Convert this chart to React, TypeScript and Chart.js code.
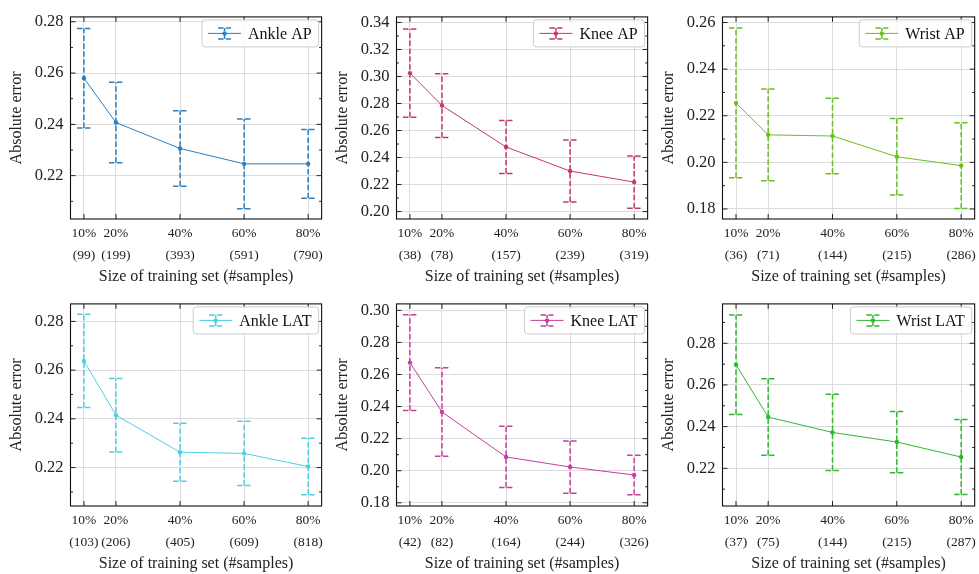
import React, { useEffect, useRef } from 'react';
import { Chart, registerables } from 'chart.js';

Chart.register(...registerables);

// ---------- data ----------
const trainFractions = [10, 20, 40, 60, 80];
const pctLabels = ['10%', '20%', '40%', '60%', '80%'];

const ankleApCounts = ['(99)', '(199)', '(393)', '(591)', '(790)'];
const ankleApMean = [0.258, 0.2407, 0.2306, 0.2246, 0.2246];
const ankleApStd = [0.0194, 0.0157, 0.0147, 0.0175, 0.0134];
const ankleApYTicks = [0.22, 0.24, 0.26, 0.28];
const ankleApYRange = [0.2031, 0.2819];

const kneeApCounts = ['(38)', '(78)', '(157)', '(239)', '(319)'];
const kneeApMean = [0.3025, 0.2785, 0.2478, 0.23, 0.2218];
const kneeApStd = [0.0326, 0.0236, 0.0196, 0.023, 0.0193];
const kneeApYTicks = [0.2, 0.22, 0.24, 0.26, 0.28, 0.3, 0.32, 0.34];
const kneeApYRange = [0.1945, 0.3441];

const wristApCounts = ['(36)', '(71)', '(144)', '(215)', '(286)'];
const wristApMean = [0.2255, 0.2118, 0.2113, 0.2024, 0.1986];
const wristApStd = [0.0321, 0.0197, 0.0162, 0.0164, 0.0184];
const wristApYTicks = [0.18, 0.2, 0.22, 0.24, 0.26];
const wristApYRange = [0.1757, 0.2624];

const ankleLatCounts = ['(103)', '(206)', '(405)', '(609)', '(818)'];
const ankleLatMean = [0.2638, 0.2415, 0.2263, 0.2258, 0.2204];
const ankleLatStd = [0.0191, 0.0151, 0.0119, 0.0132, 0.0116];
const ankleLatYTicks = [0.22, 0.24, 0.26, 0.28];
const ankleLatYRange = [0.2042, 0.2872];

const kneeLatCounts = ['(42)', '(82)', '(164)', '(244)', '(326)'];
const kneeLatMean = [0.2674, 0.2366, 0.2086, 0.2023, 0.1973];
const kneeLatStd = [0.0299, 0.0276, 0.0191, 0.0163, 0.0123];
const kneeLatYTicks = [0.18, 0.2, 0.22, 0.24, 0.26, 0.28, 0.3];
const kneeLatYRange = [0.178, 0.304];

const wristLatCounts = ['(37)', '(75)', '(144)', '(215)', '(287)'];
const wristLatMean = [0.2697, 0.2446, 0.2372, 0.2326, 0.2254];
const wristLatStd = [0.0239, 0.0184, 0.0183, 0.0147, 0.018];
const wristLatYTicks = [0.22, 0.24, 0.26, 0.28];
const wristLatYRange = [0.2019, 0.2989];

const xRange = [5.8, 84.2];
const xTitle = 'Size of training set (#samples)';
const yTitle = 'Absolute error';

// ---------- panels ----------
const FONT = '"Liberation Serif", "DejaVu Serif", serif';

type Panel = {
  name: string; counts: string[]; mean: number[]; std: number[];
  yTicks: number[]; yRange: number[]; color: string; col: number; row: number;
};

const panels: Panel[] = [
  { name: 'Ankle AP', counts: ankleApCounts, mean: ankleApMean, std: ankleApStd, yTicks: ankleApYTicks, yRange: ankleApYRange, color: '#2a7fc1', col: 0, row: 0 },
  { name: 'Knee AP', counts: kneeApCounts, mean: kneeApMean, std: kneeApStd, yTicks: kneeApYTicks, yRange: kneeApYRange, color: '#c8395f', col: 1, row: 0 },
  { name: 'Wrist AP', counts: wristApCounts, mean: wristApMean, std: wristApStd, yTicks: wristApYTicks, yRange: wristApYRange, color: '#6abf22', col: 2, row: 0 },
  { name: 'Ankle LAT', counts: ankleLatCounts, mean: ankleLatMean, std: ankleLatStd, yTicks: ankleLatYTicks, yRange: ankleLatYRange, color: '#4ccfe0', col: 0, row: 1 },
  { name: 'Knee LAT', counts: kneeLatCounts, mean: kneeLatMean, std: kneeLatStd, yTicks: kneeLatYTicks, yRange: kneeLatYRange, color: '#c53f9c', col: 1, row: 1 },
  { name: 'Wrist LAT', counts: wristLatCounts, mean: wristLatMean, std: wristLatStd, yTicks: wristLatYTicks, yRange: wristLatYRange, color: '#2fb92f', col: 2, row: 1 },
];

const colLeft = [0, 326, 652];
const colWidth = [326, 326, 327];
const rowTop = [0, 287];
const rowHeight = [287, 287];
const rowPadTop = [9, 8];

function decorPlugin(p: Panel) {
  return {
    id: 'decor',
    beforeDatasetsDraw(chart: any) {
      const { ctx, scales } = chart;
      const x = scales.x, y = scales.y;
      ctx.save();
      ctx.strokeStyle = p.color;
      ctx.lineWidth = 1.5;
      ctx.setLineDash([5.5, 2.4]);
      trainFractions.forEach((f, i) => {
        const px = x.getPixelForValue(f);
        const top = y.getPixelForValue(p.mean[i] + p.std[i]);
        const bot = y.getPixelForValue(p.mean[i] - p.std[i]);
        ctx.beginPath(); ctx.moveTo(px, bot); ctx.lineTo(px, top); ctx.stroke();
        ctx.beginPath(); ctx.moveTo(px - 7, top); ctx.lineTo(px + 7, top); ctx.stroke();
        ctx.beginPath(); ctx.moveTo(px - 7, bot); ctx.lineTo(px + 7, bot); ctx.stroke();
      });
      ctx.restore();
    },
    afterDraw(chart: any) {
      const { ctx, chartArea: a, scales } = chart;
      const x = scales.x, y = scales.y;
      ctx.save();
      // ticks
      ctx.strokeStyle = '#222';
      ctx.lineWidth = 1;
      ctx.beginPath();
      const [ymin, ymax] = p.yRange;
      for (let k = Math.ceil(ymin * 100 - 1e-6); k <= Math.floor(ymax * 100 + 1e-6); k++) {
        const v = k / 100;
        const major = p.yTicks.some((t) => Math.abs(t - v) < 1e-6);
        const len = major ? 5 : 2.5;
        const py = y.getPixelForValue(v);
        ctx.moveTo(a.left, py); ctx.lineTo(a.left + len, py);
        ctx.moveTo(a.right, py); ctx.lineTo(a.right - len, py);
      }
      trainFractions.forEach((f) => {
        const px = x.getPixelForValue(f);
        ctx.moveTo(px, a.bottom); ctx.lineTo(px, a.bottom - 5);
        ctx.moveTo(px, a.top); ctx.lineTo(px, a.top + 5);
      });
      ctx.stroke();
      // frame
      ctx.strokeStyle = '#111';
      ctx.lineWidth = 1.1;
      ctx.strokeRect(a.left, a.top, a.right - a.left, a.bottom - a.top);

      // legend
      ctx.font = `16px ${FONT}`;
      const tw = ctx.measureText(p.name).width;
      const w = 46 + tw + 7;
      const h = 27;
      const bx = a.right - 3 - w;
      const by = a.top + 3;
      ctx.beginPath();
      (ctx as any).roundRect(bx, by, w, h, 3);
      ctx.fillStyle = 'rgba(255,255,255,0.85)';
      ctx.fill();
      ctx.strokeStyle = '#cccccc';
      ctx.lineWidth = 1;
      ctx.stroke();
      const cy = by + h / 2;
      const hx = bx + 22.5;
      ctx.strokeStyle = p.color;
      ctx.lineWidth = 1;
      ctx.beginPath(); ctx.moveTo(bx + 6, cy); ctx.lineTo(bx + 39, cy); ctx.stroke();
      ctx.lineWidth = 1.5;
      ctx.setLineDash([5.5, 2.4]);
      ctx.beginPath(); ctx.moveTo(hx, cy + 5.5); ctx.lineTo(hx, cy - 5.5); ctx.stroke();
      ctx.beginPath(); ctx.moveTo(hx - 6.5, cy - 5.5); ctx.lineTo(hx + 6.5, cy - 5.5); ctx.stroke();
      ctx.beginPath(); ctx.moveTo(hx - 6.5, cy + 5.5); ctx.lineTo(hx + 6.5, cy + 5.5); ctx.stroke();
      ctx.setLineDash([]);
      ctx.fillStyle = p.color;
      ctx.beginPath(); ctx.arc(hx, cy, 2.2, 0, Math.PI * 2); ctx.fill();
      ctx.fillStyle = '#111';
      ctx.textBaseline = 'middle';
      ctx.textAlign = 'left';
      ctx.fillText(p.name, bx + 46, cy + 1);
      ctx.restore();
    },
  };
}

function PanelChart({ p }: { p: Panel }) {
  const ref = useRef<HTMLCanvasElement>(null);
  useEffect(() => {
    if (!ref.current) return;
    const chart = new Chart(ref.current, {
      type: 'line',
      data: {
        datasets: [
          {
            label: p.name,
            data: trainFractions.map((f, i) => ({ x: f, y: p.mean[i] })),
            borderColor: p.color,
            backgroundColor: p.color,
            borderWidth: 1,
            pointRadius: 2.2,
            pointBorderWidth: 0,
            pointBackgroundColor: p.color,
            tension: 0,
          },
        ],
      },
      options: {
        animation: false,
        responsive: false,
        devicePixelRatio: 1,
        layout: { padding: { top: rowPadTop[p.row], right: 4, left: 0, bottom: 0 } },
        plugins: { legend: { display: false }, tooltip: { enabled: false } },
        scales: {
          x: {
            type: 'linear',
            min: xRange[0],
            max: xRange[1],
            afterBuildTicks: (s: any) => { s.ticks = trainFractions.map((v) => ({ value: v })); },
            afterFit: (s: any) => { s.height = 68; },
            ticks: {
              autoSkip: false,
              maxRotation: 0,
              padding: 3,
              color: '#222',
              font: { family: FONT, size: 13.5, lineHeight: 1.63 },
              callback: (_v: any, i: number) => [pctLabels[i], p.counts[i]],
            },
            grid: { color: '#dcdcdc', lineWidth: 1, drawTicks: false },
            border: { display: false },
            title: {
              display: true,
              text: xTitle,
              color: '#222',
              font: { family: FONT, size: 16, lineHeight: 1.2 },
              padding: { top: 0, bottom: 1 },
            },
          },
          y: {
            type: 'linear',
            min: p.yRange[0],
            max: p.yRange[1],
            afterBuildTicks: (s: any) => { s.ticks = p.yTicks.map((v) => ({ value: v })); },
            afterFit: (s: any) => { s.width = 70.5; },
            ticks: {
              padding: 7,
              color: '#222',
              font: { family: FONT, size: 16.5 },
              callback: (v: any) => Number(v).toFixed(2),
            },
            grid: { color: '#dcdcdc', lineWidth: 1, drawTicks: false },
            border: { display: false },
            title: {
              display: true,
              text: yTitle,
              color: '#222',
              font: { family: FONT, size: 16, lineHeight: 1.2 },
              padding: { top: 7.4, bottom: 0 },
            },
          },
        },
      },
      plugins: [decorPlugin(p)],
    } as any);
    return () => chart.destroy();
  }, [p]);
  const w = colWidth[p.col];
  const h = rowHeight[p.row];
  return (
    <canvas
      ref={ref}
      width={w}
      height={h}
      style={{ position: 'absolute', left: colLeft[p.col], top: rowTop[p.row], width: w, height: h }}
    />
  );
}

export default function App() {
  return (
    <div style={{ position: 'absolute', left: 0, top: 0, width: 979, height: 574, background: '#fff', overflow: 'hidden' }}>
      {panels.map((p) => (
        <PanelChart key={p.name} p={p} />
      ))}
    </div>
  );
}
